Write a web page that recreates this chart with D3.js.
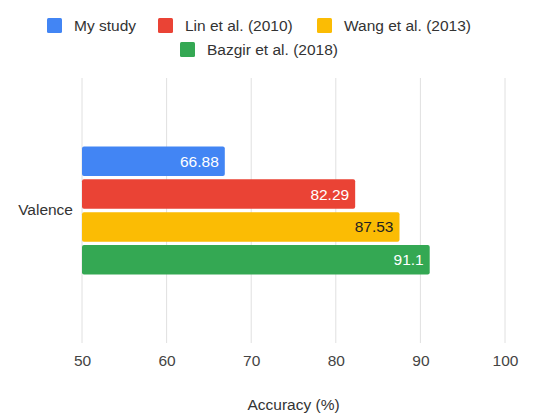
<!DOCTYPE html>
<html>
<head>
<meta charset="utf-8">
<script src="https://cdn.jsdelivr.net/npm/d3@7"></script>
<style>
  body { margin: 0; background: #fff; }
  text { font-family: "Liberation Sans", Arial, sans-serif; }
</style>
</head>
<body>
<div id="chart"></div>
<script>
// data
const categories = ["Valence"];
const seriesNames = ["My study", "Lin et al. (2010)", "Wang et al. (2013)", "Bazgir et al. (2018)"];
const seriesColors = ["#4285f4", "#ea4335", "#fbbc04", "#34a853"];
const labelColors = ["#fff", "#fff", "#222", "#fff"];
const valence = [66.88, 82.29, 87.53, 91.1];
const xTicks = [50, 60, 70, 80, 90, 100];

var width = 552, height = 414;
var margin = {top: 78, right: 47, bottom: 71, left: 82};
var innerwidth = width - margin.left - margin.right;
var innerheight = height - margin.top - margin.bottom;
var fs = "15.5px";

const svg = d3.select("#chart").append("svg")
    .attr("width", width)
    .attr("height", height);

const g = svg.append("g")
    .attr("transform", "translate(" + margin.left + "," + margin.top + ")");

const xscale = d3.scaleLinear().domain([50, 100]).range([0, innerwidth]);

const yscale = d3.scaleBand()
    .domain(categories)
    .range([0, innerheight])
    .paddingOuter(0.535);

const yinner = d3.scaleBand()
    .domain(seriesNames)
    .range([0, yscale.bandwidth()])
    .paddingInner(0.1);

// grid lines
g.selectAll(".grid")
    .data(xTicks)
    .enter().append("line")
    .attr("x1", d => xscale(d))
    .attr("x2", d => xscale(d))
    .attr("y1", 0)
    .attr("y2", innerheight)
    .attr("stroke", "#e0e0e0")
    .attr("stroke-width", 1);

// x axis labels
const xaxis = d3.axisBottom(xscale).tickValues(xTicks).tickSize(0).tickPadding(12);
const xaxisG = g.append("g")
    .attr("transform", "translate(0," + innerheight + ")")
    .call(xaxis);
xaxisG.select(".domain").remove();
xaxisG.selectAll("text")
    .attr("font-size", fs)
    .attr("fill", "#444")
    .style("font-family", "'Liberation Sans', Arial, sans-serif");

// y axis label
const yaxis = d3.axisLeft(yscale).tickSize(0).tickPadding(9);
const yaxisG = g.append("g").call(yaxis);
yaxisG.select(".domain").remove();
yaxisG.selectAll("text")
    .attr("font-size", fs)
    .attr("fill", "#333")
    .style("font-family", "'Liberation Sans', Arial, sans-serif");

const rows = seriesNames.map((s, i) => ({name: s, value: valence[i], color: seriesColors[i], lc: labelColors[i]}));

const group = g.selectAll(".cat")
    .data(categories)
    .enter().append("g")
    .attr("transform", d => "translate(0," + yscale(d) + ")");

group.selectAll("rect")
    .data(rows)
    .enter().append("rect")
    .attr("x", xscale(50))
    .attr("y", d => yinner(d.name))
    .attr("width", d => xscale(d.value) - xscale(50))
    .attr("height", yinner.bandwidth())
    .attr("rx", 2).attr("ry", 2)
    .attr("fill", d => d.color);

group.selectAll(".val")
    .data(rows)
    .enter().append("text")
    .attr("class", "val")
    .attr("x", d => xscale(d.value) - 6)
    .attr("y", d => yinner(d.name) + yinner.bandwidth() / 2)
    .attr("dy", "0.35em")
    .attr("text-anchor", "end")
    .attr("font-size", fs)
    .attr("fill", d => d.lc)
    .text(d => d.value);

// axis title
svg.append("text")
    .attr("x", margin.left + innerwidth / 2)
    .attr("y", 410)
    .attr("text-anchor", "middle")
    .attr("font-size", fs)
    .attr("fill", "#333")
    .text("Accuracy (%)");

// legend
const legendPos = [[47, 26], [158, 26], [317, 26], [180, 50]];
const legend = svg.selectAll(".legend")
    .data(rows)
    .enter().append("g")
    .attr("transform", (d, i) => "translate(" + legendPos[i][0] + "," + legendPos[i][1] + ")");
legend.append("rect")
    .attr("x", 0).attr("y", -8)
    .attr("width", 15).attr("height", 15)
    .attr("rx", 1.5)
    .attr("fill", d => d.color);
legend.append("text")
    .attr("x", 27)
    .attr("y", 0)
    .attr("dy", "0.35em")
    .attr("font-size", fs)
    .attr("fill", "#333")
    .text(d => d.name);
</script>
</body>
</html>
